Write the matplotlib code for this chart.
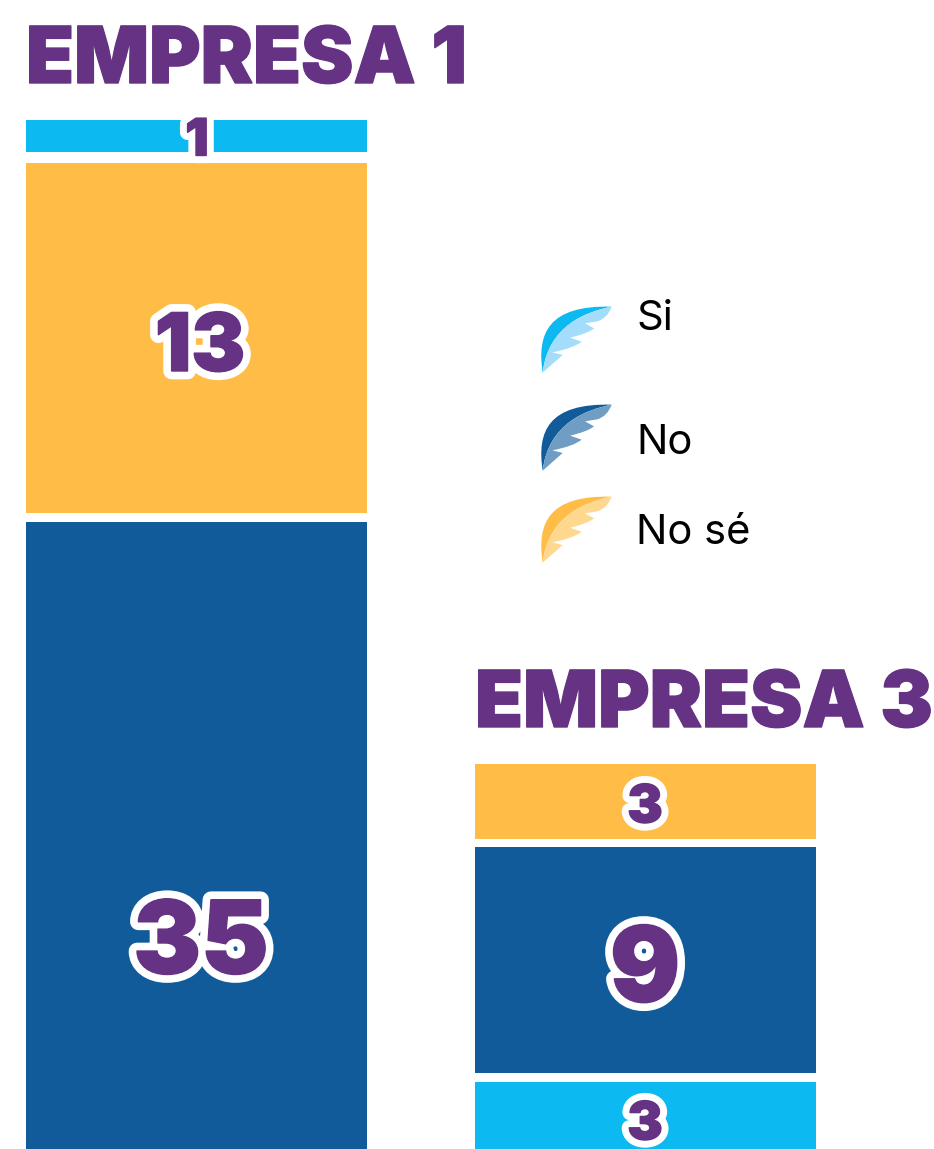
import matplotlib
matplotlib.use('Agg')
import matplotlib.pyplot as plt
import matplotlib.patheffects as pe
from matplotlib.path import Path
from matplotlib.patches import PathPatch

W, H = 934, 1149

#Data, bottom to top (bar heights, they are not proportional to the labels)
answers_1 = ['No', 'No sé', 'Si']
heights_1 = [25.08, 14.0, 1.28]
labels_1 = ['35', '13', '1']
answers_3 = ['Si', 'No', 'No sé']
heights_3 = [2.68, 9.04, 3.0]
labels_3 = ['3', '9', '3']
legend_names = ['Si', 'No', 'No sé']

colors = {'Si': '#0CB9F1', 'No': '#115B9A', 'No sé': '#FFBC47'}
light = {'Si': '#A3DDFB', 'No': '#709DC3', 'No sé': '#FFD88F'}
purple = '#663284'
PX = 25.0  #pixels per unit on the bars
HEAVY = 'Inter'
TITLE = dict(family=HEAVY, weight=900, color=purple, va='baseline', ha='left')


def bars(box, names, heights, gaps):
    #box is left, top, right, bottom in pixels
    l, t, r, b = box
    ax = fig.add_axes([l / W, 1 - b / H, (r - l) / W, (b - t) / H])
    bottom = 0
    for i, (n, h) in enumerate(zip(names, heights)):
        ax.bar(0.5, h, width=1, bottom=bottom, color=colors[n], linewidth=0)
        bottom += h + (gaps[i] if i < len(gaps) else 0)
    ax.set_xlim(0, 1)
    ax.set_ylim(0, (b - t) / PX)
    ax.axis('off')


def number(x, y, s, size, lw):
    txt = over.text(x, y, s, ha='center', va='center', fontsize=size, color=purple,
                    family=HEAVY, weight=900, zorder=5)
    txt.set_path_effects([pe.withStroke(linewidth=lw, foreground='white'),
                          pe.withStroke(linewidth=1, foreground=purple)])


def wing(dy, name):
    def pt(x, y):
        return (520 + x / 3, 290 + y / 3 + dy)
    outer = [pt(68, 248), pt(50, 130), pt(85, 45), pt(275, 50), pt(200, 65), pt(85, 105), pt(68, 248)]
    codes = [Path.MOVETO, Path.CURVE4, Path.CURVE4, Path.CURVE4, Path.CURVE4, Path.CURVE4, Path.CURVE4]
    over.add_patch(PathPatch(Path(outer, codes), fc=colors[name], ec='none'))
    feather = [(275, 50), (262, 85), (232, 94), (195, 100), (222, 115), (205, 130), (150, 143),
               (185, 155), (160, 175), (97, 187), (128, 195), (68, 248)]
    verts = [pt(*p) for p in feather] + [pt(85, 105), pt(200, 65), pt(275, 50)]
    c = [Path.MOVETO, Path.CURVE3, Path.CURVE3, Path.LINETO, Path.LINETO, Path.CURVE3, Path.CURVE3,
         Path.LINETO, Path.CURVE3, Path.CURVE3, Path.LINETO, Path.LINETO,
         Path.CURVE4, Path.CURVE4, Path.CURVE4]
    over.add_patch(PathPatch(Path(verts, c), fc=light[name], ec='none'))


fig = plt.figure(figsize=(W / 100, H / 100), dpi=100, facecolor='white')

bars((26, 120, 367, 1149), answers_1, heights_1, [0.36, 0.44])
bars((475, 764, 816, 1149), answers_3, heights_3, [0.36, 0.32])

#overlay in pixel coordinates for titles, labels and legend
over = fig.add_axes([0, 0, 1, 1])
over.set_xlim(0, W)
over.set_ylim(H, 0)
over.axis('off')
over.patch.set_alpha(0)

heavy_edge = [pe.withStroke(linewidth=1, foreground=purple)]
over.text(26, 83, 'EMPRESA 1', fontsize=56.5, path_effects=heavy_edge, **TITLE)
over.text(475, 727, 'EMPRESA 3', fontsize=56.5, path_effects=heavy_edge, **TITLE)

for y, s, size, lw in zip([947, 350, 142], labels_1, [73, 58, 37], [12, 12, 11]):
    number(201 if s == '35' else 200 if s == '13' else 197, y, s, size, lw)
for y, s, size, lw in zip([1126, 974, 809], labels_3, [38, 75, 38], [11, 12, 11]):
    number(645, y, s, size, lw)

for dy, name in zip([0, 98, 190], legend_names):
    wing(dy, name)
for y, name in zip([330, 454, 544], legend_names):
    over.text(636, y, name, fontsize=30, family='Inter', color='black', va='baseline')

fig.savefig('out.png', dpi=100)
